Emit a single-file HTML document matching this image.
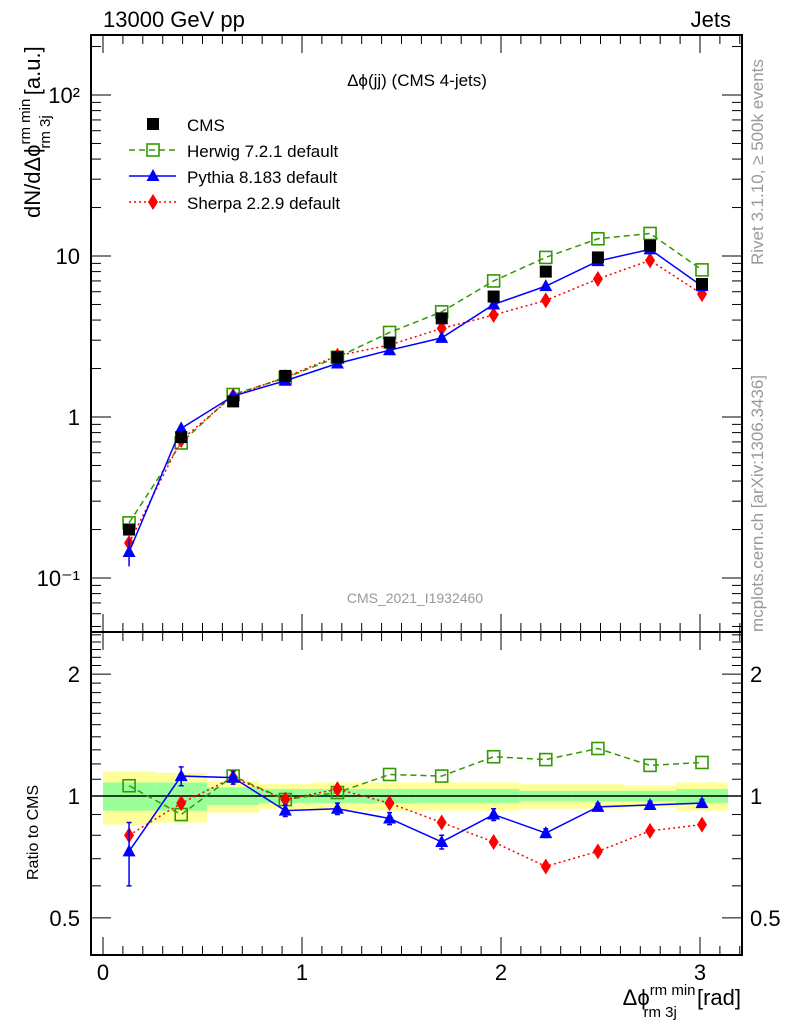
<!DOCTYPE html>
<html><head><meta charset="utf-8"><style>
body{margin:0;background:#fff;}
svg{display:block;font-family:"Liberation Sans",sans-serif;}
</style></head><body>
<svg id="c" width="786" height="1024" viewBox="0 0 786 1024"></svg>
<script>
const xs=[0.131,0.393,0.654,0.916,1.178,1.44,1.702,1.963,2.225,2.487,2.749,3.01];
const cms=[0.2,0.75,1.25,1.8,2.35,2.9,4.1,5.6,8.0,9.8,11.6,6.7];
const herwig=[0.22,0.69,1.38,1.75,2.35,3.35,4.5,7.0,9.8,12.8,13.8,8.2];
const pythia=[0.145,0.85,1.35,1.68,2.15,2.6,3.1,5.0,6.5,9.3,11.0,6.5];
const sherpa=[0.165,0.72,1.35,1.77,2.4,2.8,3.55,4.3,5.3,7.2,9.4,5.8];
const rHerwig=[1.06,0.90,1.12,0.98,1.02,1.13,1.12,1.25,1.23,1.31,1.19,1.21];
const rPythia=[0.73,1.12,1.11,0.92,0.93,0.88,0.77,0.90,0.81,0.94,0.95,0.96];
const rSherpa=[0.80,0.96,1.11,0.98,1.04,0.96,0.86,0.77,0.67,0.73,0.82,0.85];
const rPythiaErr=[0.13,0.06,0.04,0.03,0.03,0.03,0.03,0.03,0.02,0.02,0.02,0.02];
const yellowHalf=[0.15,0.14,0.09,0.07,0.08,0.08,0.08,0.08,0.07,0.07,0.06,0.08];
const greenHalf=[0.08,0.08,0.05,0.04,0.04,0.04,0.04,0.04,0.03,0.03,0.03,0.04];
const binW=0.2618;
const xTicks=[0,1,2,3];
const yTicks=[[100,"10²"],[10,"10"],[1,"1"],[0.1,"10⁻¹"]];
const rTicks=[[2,"2"],[1,"1"],[0.5,"0.5"]];

const L=91,R=742,T=35,MB=632,B=955;
const X=v=>103+v*199;
const Y=v=>417-Math.log10(v)*161;
const RY=v=>796-Math.log10(v)*405;
const svg=document.getElementById('c');
const NS='http://www.w3.org/2000/svg';
function el(tag,at,parent){const e=document.createElementNS(NS,tag);for(const k in at)e.setAttribute(k,at[k]);(parent||svg).appendChild(e);return e;}
function txt(s,at,parent){const e=el('text',at,parent);e.textContent=s;return e;}

const bands=el('g',{});


xs.forEach((x,i)=>{
 const a=el('rect',{x:X(x-binW/2),y:RY(1+yellowHalf[i]),width:X(x+binW/2)-X(x-binW/2),height:RY(1-yellowHalf[i])-RY(1+yellowHalf[i]),fill:'#ffff99'},bands);
 
 
 const g=el('rect',{x:X(x-binW/2),y:RY(1+greenHalf[i]),width:X(x+binW/2)-X(x-binW/2),height:RY(1-greenHalf[i])-RY(1+greenHalf[i]),fill:'#99ff99'},bands);
 
 
});
el('line',{x1:L,x2:R,y1:RY(1),y2:RY(1),stroke:'#000','stroke-width':1.5});

el('rect',{x:L,y:T,width:R-L,height:MB-T,fill:'none',stroke:'#000','stroke-width':2});
el('rect',{x:L,y:MB,width:R-L,height:B-MB,fill:'none',stroke:'#000','stroke-width':2});

for(let k=0;k<=32;k++){const v=k/10;const px=X(v);if(px<L||px>R)continue;const maj=k%10==0;const len=maj?18:9;
 el('line',{x1:px,x2:px,y1:B,y2:B-len,stroke:'#000'});
 el('line',{x1:px,x2:px,y1:MB,y2:MB-len,stroke:'#000'});
 el('line',{x1:px,x2:px,y1:MB,y2:MB+len,stroke:'#000'});
 el('line',{x1:px,x2:px,y1:T,y2:T+len,stroke:'#000'});}
xTicks.forEach(v=>{const t=txt(String(v),{x:X(v),y:980,'font-size':22,'text-anchor':'middle'});});

for(let d=-2;d<=2;d++)for(let m=1;m<10;m++){const v=m*Math.pow(10,d);const py=Y(v);if(py<T||py>MB)continue;const len=m==1?20:10;
 el('line',{x1:L,x2:L+len,y1:py,y2:py,stroke:'#000'});el('line',{x1:R,x2:R-len,y1:py,y2:py,stroke:'#000'});}
yTicks.forEach(([v,s])=>{const t=txt(s,{x:80,y:Y(v)+8,'font-size':22,'text-anchor':'end'});});

for(let v=0.4;v<=2.55;v+=0.1){const py=RY(v);if(py<MB||py>B)continue;const maj=Math.abs(v-1)<1e-6||Math.abs(v-2)<1e-6||Math.abs(v-0.5)<1e-6;const len=maj?20:10;
 el('line',{x1:L,x2:L+len,y1:py,y2:py,stroke:'#000'});el('line',{x1:R,x2:R-len,y1:py,y2:py,stroke:'#000'});}
rTicks.forEach(([v,s])=>{const t=txt(s,{x:80,y:RY(v)+8,'font-size':22,'text-anchor':'end'});
 const t2=txt(s,{x:750,y:RY(v)+8,'font-size':22});});

function marker(type,cx,cy,col,g){
 if(type=='sq')return el('rect',{x:cx-6,y:cy-6,width:12,height:12,fill:'#000'},g);
 if(type=='osq')return el('rect',{x:cx-6,y:cy-6,width:12,height:12,fill:'none',stroke:col,'stroke-width':1.6},g);
 if(type=='tri')return el('polygon',{points:`${cx},${cy-7} ${cx+6.5},${cy+5} ${cx-6.5},${cy+5}`,fill:col},g);
 if(type=='dia')return el('polygon',{points:`${cx},${cy-8} ${cx+5},${cy} ${cx},${cy+8} ${cx-5},${cy}`,fill:col},g);
}
function series(name,vals,fy,col,dash,type){
 const g=el('g',{});
 
 
 if(col){el('polyline',{points:vals.map((v,i)=>X(xs[i])+','+fy(v)).join(' '),fill:'none',stroke:col,'stroke-width':1.5,'stroke-dasharray':dash||''},g);}
 vals.forEach((v,i)=>{const m=marker(type,X(xs[i]),fy(v),col,g);});
 return g;
}
series('herwig-series',herwig,Y,'#339900','6,4','osq');
series('sherpa-series',sherpa,Y,'#ff0000','2,3','dia');
series('pythia-series',pythia,Y,'#0000ff','','tri');
series('cms-series',cms,Y,null,'','sq');
el('line',{x1:X(xs[0]),x2:X(xs[0]),y1:Y(0.175),y2:Y(0.118),stroke:'#0000ff','stroke-width':1.5});
el('line',{x1:X(xs[1]),x2:X(xs[1]),y1:Y(0.92),y2:Y(0.79),stroke:'#0000ff','stroke-width':1.5});

series('ratio-herwig',rHerwig,RY,'#339900','6,4','osq');
series('ratio-sherpa',rSherpa,RY,'#ff0000','2,3','dia');
const rp=series('ratio-pythia',rPythia,RY,'#0000ff','','tri');
rPythia.forEach((v,i)=>{const e=rPythiaErr[i];const px=X(xs[i]);
 el('line',{x1:px,x2:px,y1:RY(v+e),y2:RY(Math.max(v-e,0.41)),stroke:'#0000ff','stroke-width':1.5},rp);
 el('line',{x1:px-2.5,x2:px+2.5,y1:RY(v+e),y2:RY(v+e),stroke:'#0000ff','stroke-width':1.5},rp);
 el('line',{x1:px-2.5,x2:px+2.5,y1:RY(v-e),y2:RY(v-e),stroke:'#0000ff','stroke-width':1.5},rp);});

const lg=el('g',{});


const leg=[['CMS',null,'','sq'],['Herwig 7.2.1 default','#339900','6,4','osq'],['Pythia 8.183 default','#0000ff','','tri'],['Sherpa 2.2.9 default','#ff0000','2,3','dia']];
leg.forEach((l,i)=>{const y=124+i*26;
 if(l[1])el('line',{x1:129,x2:176,y1:y,y2:y,stroke:l[1],'stroke-width':1.5,'stroke-dasharray':l[2]},lg);
 marker(l[3],153,y,l[1],lg);
 const t=txt(l[0],{x:187,y:y+7,'font-size':17},lg);});

const tt=[['13000 GeV pp',{x:103,y:27,'font-size':22},'energy-label'],['Jets',{x:731,y:27,'font-size':22,'text-anchor':'end'},'process-label'],
['Δϕ(jj) (CMS 4-jets)',{x:417,y:86,'font-size':17,'text-anchor':'middle'},'plot-title'],
['CMS_2021_I1932460',{x:415,y:603,'font-size':14,'text-anchor':'middle',fill:'#999'},'analysis-id'],
['Ratio to CMS',{x:0,y:0,'font-size':16,transform:'translate(38,880) rotate(-90)'},'ratio-y-title'],
['Rivet 3.1.10, ≥ 500k events',{x:0,y:0,'font-size':17,fill:'#999',transform:'translate(763,265) rotate(-90)'},'rivet-label'],
['mcplots.cern.ch [arXiv:1306.3436]',{x:0,y:0,'font-size':17,fill:'#999',transform:'translate(763,632) rotate(-90)'},'mcplots-label']];
tt.forEach(([s,a,n])=>{const t=txt(s,a);});
const yt=el('text',{transform:'translate(40,218) rotate(-90)','font-size':22});


yt.innerHTML='dN/dΔϕ<tspan font-size="15" dy="-10">rm min</tspan><tspan font-size="15" dx="-50" dy="20">rm 3j</tspan><tspan dy="-10" dx="14"> [a.u.]</tspan>';
const xt=el('text',{x:741,y:1005,'font-size':22,'text-anchor':'end'});


xt.innerHTML='Δϕ<tspan font-size="15" dy="-10">rm min</tspan><tspan font-size="15" dx="-52" dy="22">rm 3j</tspan><tspan dy="-12" dx="14"> [rad]</tspan>';
</script>
</body></html>
